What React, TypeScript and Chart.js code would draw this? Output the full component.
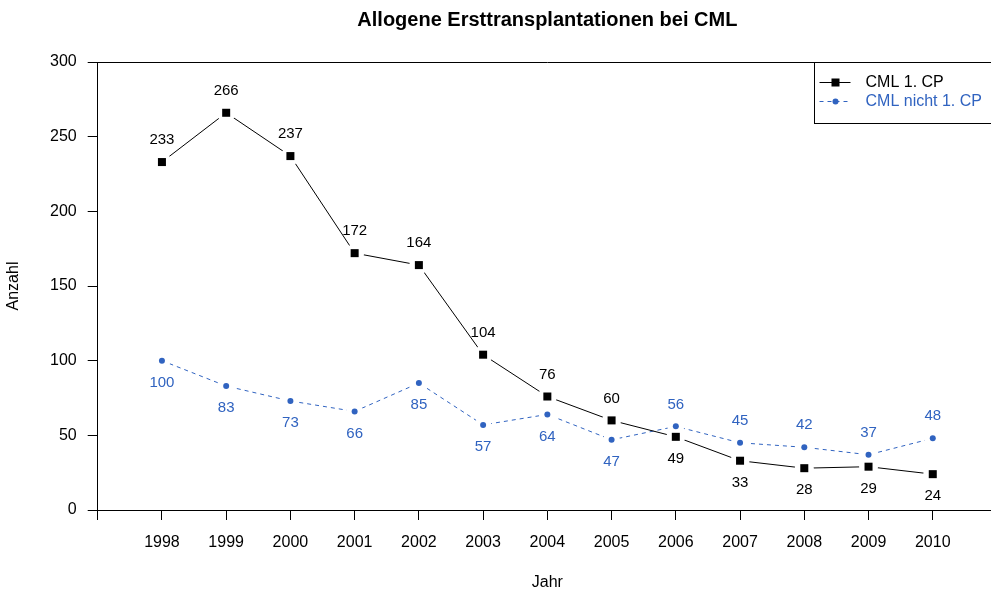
import React, { useEffect, useRef } from 'react';
import { Chart, registerables } from 'chart.js';

Chart.register(...registerables);

// ---------- data ----------
const chartTitle = 'Allogene Ersttransplantationen bei CML';
const xTitle = 'Jahr';
const yTitle = 'Anzahl';
const seriesNames = ['CML 1. CP', 'CML nicht 1. CP'];
const years = [1998, 1999, 2000, 2001, 2002, 2003, 2004, 2005, 2006, 2007, 2008, 2009, 2010];
const cmlFirstCP = [233, 266, 237, 172, 164, 104, 76, 60, 49, 33, 28, 29, 24];
const cmlNotFirstCP = [100, 83, 73, 66, 85, 57, 64, 47, 56, 45, 42, 37, 48];
const xMin = 1997;
const xMax = 2011;
const yMin = 0;
const yMax = 300;
const yStep = 50;
// label placement: black labels above up to 2005, blue labels below up to 2005
const splitYear = 2005;

const FONT = '"Liberation Sans", Arial, Helvetica, sans-serif';
const BLACK = '#000000';
const BLUE = '#3063C0';

const pts = (vals: number[]) => years.map((x, i) => ({ x, y: vals[i] }));

const boxPlugin = {
  id: 'plotBox',
  beforeDatasetsDraw(chart: any) {
    const { ctx, chartArea: a } = chart;
    ctx.save();
    ctx.strokeStyle = BLACK;
    ctx.lineWidth = 1;
    ctx.beginPath();
    ctx.moveTo(a.left, Math.round(a.top) + 0.5);
    ctx.lineTo(a.right, Math.round(a.top) + 0.5);
    ctx.moveTo(a.right, a.top);
    ctx.lineTo(a.right, a.bottom);
    ctx.stroke();
    ctx.restore();
  },
};

// R type "b": lines stop short of the points; markers sit in the gaps
const markerPlugin = {
  id: 'gapMarkers',
  afterDatasetsDraw(chart: any) {
    const { ctx } = chart;
    const black = chart.getDatasetMeta(2).data;
    const blue = chart.getDatasetMeta(3).data;
    ctx.save();
    ctx.fillStyle = '#ffffff';
    black.forEach((el: any) => {
      ctx.beginPath();
      ctx.arc(el.x, el.y, 9.5, 0, Math.PI * 2);
      ctx.fill();
    });
    blue.forEach((el: any) => {
      ctx.beginPath();
      ctx.arc(el.x, el.y, 8.5, 0, Math.PI * 2);
      ctx.fill();
    });
    ctx.fillStyle = BLACK;
    black.forEach((el: any) => {
      ctx.fillRect(el.x - 4, el.y - 4, 8, 8);
    });
    ctx.fillStyle = BLUE;
    blue.forEach((el: any) => {
      ctx.beginPath();
      ctx.arc(el.x, el.y, 3, 0, Math.PI * 2);
      ctx.fill();
    });
    ctx.restore();
  },
};

const valueLabelPlugin = {
  id: 'valueLabels',
  afterDatasetsDraw(chart: any) {
    const { ctx } = chart;
    ctx.save();
    ctx.font = `15px ${FONT}`;
    ctx.textAlign = 'center';
    ctx.textBaseline = 'middle';
    const draw = (dsIndex: number, vals: number[], color: string, aboveFirst: boolean) => {
      const meta = chart.getDatasetMeta(dsIndex);
      ctx.fillStyle = color;
      meta.data.forEach((el: any, i: number) => {
        const early = years[i] <= splitYear;
        const above = early ? aboveFirst : !aboveFirst;
        ctx.fillText(String(vals[i]), el.x, el.y + (above ? -22 : 22));
      });
    };
    draw(2, cmlFirstCP, BLACK, true);
    draw(3, cmlNotFirstCP, BLUE, false);
    ctx.restore();
  },
};

const legendPlugin = {
  id: 'boxLegend',
  afterDraw(chart: any) {
    const { ctx, chartArea: a } = chart;
    const w = 183;
    const h = 61;
    const left = Math.round(a.right - w) + 0.5;
    const top = Math.round(a.top) + 0.5;
    ctx.save();
    ctx.fillStyle = '#ffffff';
    ctx.fillRect(left, top, w, h);
    ctx.strokeStyle = BLACK;
    ctx.lineWidth = 1;
    ctx.strokeRect(left, top, w, h);
    const sx1 = left + 5;
    const sx2 = left + 36;
    const mx = left + 21;
    const tx = left + 51;
    const r1 = top + 20;
    const r2 = top + 39;
    // row 1
    ctx.beginPath();
    ctx.moveTo(sx1, r1);
    ctx.lineTo(sx2, r1);
    ctx.stroke();
    ctx.fillStyle = BLACK;
    ctx.fillRect(mx - 4, r1 - 4, 8, 8);
    // row 2
    ctx.strokeStyle = BLUE;
    ctx.setLineDash([4, 4]);
    ctx.beginPath();
    ctx.moveTo(sx1, r2);
    ctx.lineTo(sx2, r2);
    ctx.stroke();
    ctx.setLineDash([]);
    ctx.fillStyle = BLUE;
    ctx.beginPath();
    ctx.arc(mx, r2, 3, 0, Math.PI * 2);
    ctx.fill();
    ctx.font = `16px ${FONT}`;
    ctx.textAlign = 'left';
    ctx.textBaseline = 'middle';
    ctx.fillStyle = BLACK;
    ctx.fillText(seriesNames[0], tx, r1);
    ctx.fillStyle = BLUE;
    ctx.fillText(seriesNames[1], tx, r2);
    ctx.restore();
  },
};

export default function App() {
  const ref = useRef<HTMLCanvasElement | null>(null);

  useEffect(() => {
    if (!ref.current) return;
    const chart = new Chart(ref.current, {
      type: 'line',
      data: {
        datasets: [
          {
            label: seriesNames[0],
            data: pts(cmlFirstCP),
            borderColor: BLACK,
            backgroundColor: BLACK,
            borderWidth: 1,
            pointRadius: 0,
            fill: false,
            tension: 0,
          },
          {
            label: seriesNames[1],
            data: pts(cmlNotFirstCP),
            borderColor: BLUE,
            backgroundColor: BLUE,
            borderWidth: 1,
            borderDash: [4, 4],
            pointRadius: 0,
            fill: false,
            tension: 0,
          },
          {
            label: seriesNames[0] + ' marker',
            data: pts(cmlFirstCP),
            showLine: false,
            borderColor: BLACK,
            backgroundColor: BLACK,
            pointStyle: 'rect',
            pointRadius: 5.66,
            pointBackgroundColor: BLACK,
            pointBorderWidth: 0,
          },
          {
            label: seriesNames[1] + ' marker',
            data: pts(cmlNotFirstCP),
            showLine: false,
            borderColor: BLUE,
            backgroundColor: BLUE,
            pointStyle: 'circle',
            pointRadius: 3,
            pointBackgroundColor: BLUE,
            pointBorderWidth: 0,
          },
        ],
      },
      options: {
        animation: false,
        responsive: false,
        devicePixelRatio: 1,
        events: [],
        layout: { padding: { left: 0, right: 11.7, top: 0, bottom: 0 } },
        plugins: {
          legend: { display: false },
          tooltip: { enabled: false },
          title: {
            display: true,
            text: chartTitle,
            fullSize: false,
            color: BLACK,
            font: { family: FONT, size: 20, weight: 'bold' },
            padding: { top: 8, bottom: 30 },
          },
        },
        scales: {
          x: {
            type: 'linear',
            min: xMin,
            max: xMax,
            afterFit: (s: any) => {
              s.height = 82;
            },
            grid: {
              drawOnChartArea: false,
              drawTicks: true,
              tickLength: 10,
              color: BLACK,
            },
            border: { display: true, color: BLACK, width: 1 },
            ticks: {
              stepSize: 1,
              autoSkip: false,
              maxRotation: 0,
              padding: 13,
              color: BLACK,
              font: { family: FONT, size: 16 },
              callback: (v: any) => (v === xMin || v === xMax ? '' : String(v)),
            },
            title: {
              display: true,
              text: xTitle,
              color: BLACK,
              font: { family: FONT, size: 16 },
              padding: { top: 0, bottom: 0 },
            },
          },
          y: {
            type: 'linear',
            min: yMin,
            max: yMax,
            afterFit: (s: any) => {
              s.width = 97.7;
            },
            grid: {
              drawOnChartArea: false,
              drawTicks: true,
              tickLength: 10,
              color: BLACK,
            },
            border: { display: true, color: BLACK, width: 1 },
            ticks: {
              stepSize: yStep,
              padding: 11,
              color: BLACK,
              font: { family: FONT, size: 16 },
              callback: (v: any) => String(v),
            },
            title: {
              display: true,
              text: yTitle,
              color: BLACK,
              font: { family: FONT, size: 16 },
              padding: { top: 4, bottom: 0 },
            },
          },
        },
      },
      plugins: [boxPlugin, markerPlugin, valueLabelPlugin, legendPlugin],
    } as any);
    return () => chart.destroy();
  }, []);

  return (
    <div
      style={{
        position: 'fixed',
        left: 0,
        top: 0,
        width: 991,
        height: 592,
        overflow: 'hidden',
        background: '#ffffff',
      }}
    >
      <canvas ref={ref} width={1010} height={592} style={{ display: 'block', width: 1010, height: 592 }} />
    </div>
  );
}
